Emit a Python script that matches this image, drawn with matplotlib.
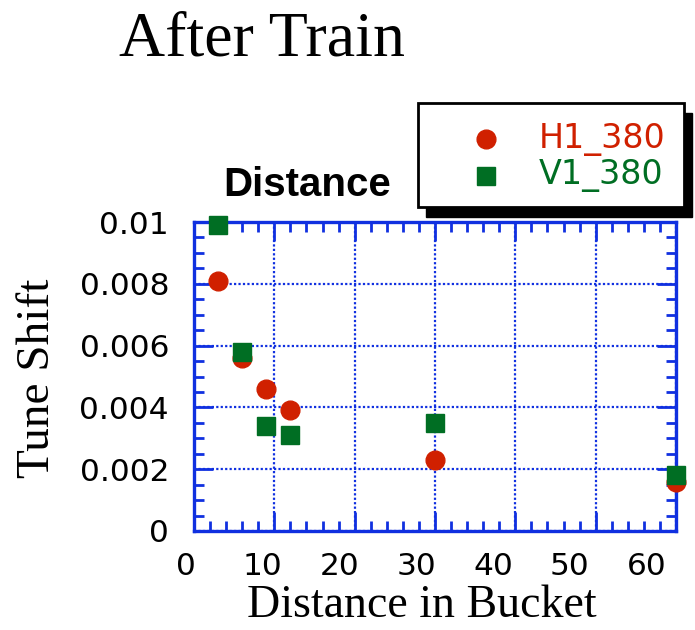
import matplotlib
matplotlib.use("Agg")
import matplotlib.pyplot as plt
from matplotlib.ticker import MultipleLocator, FixedLocator
from matplotlib.patches import Rectangle
from matplotlib.lines import Line2D
from matplotlib.transforms import ScaledTranslation

# Data: tune shift vs. bunch distance
h1_distance = [3, 6, 9, 12, 30, 60]
h1_shift = [0.0081, 0.0056, 0.0046, 0.0039, 0.0023, 0.0016]
v1_distance = [3, 6, 9, 12, 30, 60]
v1_shift = [0.0099, 0.0058, 0.0034, 0.0031, 0.0035, 0.0018]

x_ticks = [0, 10, 20, 30, 40, 50, 60]
y_ticks = [0, 0.002, 0.004, 0.006, 0.008, 0.01]
y_tick_labels = ["0", "0.002", "0.004", "0.006", "0.008", "0.01"]

RED = "#d02000"
GREEN = "#006e23"
BLUE = "#1030e0"

W, H = 695, 630
fig = plt.figure(figsize=(W / 100, H / 100), dpi=100)
ax = fig.add_axes([194 / W, 1 - 531 / H, (676 - 194) / W, (531 - 222) / H])

ax.plot(h1_distance, h1_shift, linestyle="none", marker="o", ms=13.5,
        color=RED, mec=RED, clip_on=False, zorder=3)
ax.plot(v1_distance, v1_shift, linestyle="none", marker="s", ms=13.5,
        color=GREEN, mec=GREEN, clip_on=False, zorder=4)

ax.set_xlim(0, 60)
ax.set_ylim(0, 0.01)
ax.xaxis.set_major_locator(FixedLocator(x_ticks))
ax.xaxis.set_minor_locator(MultipleLocator(2))
ax.yaxis.set_major_locator(FixedLocator(y_ticks))
ax.yaxis.set_minor_locator(MultipleLocator(0.0005))
ax.set_xticklabels([str(t) for t in x_ticks])
ax.set_yticklabels(y_tick_labels)

for s in ax.spines.values():
    s.set_color(BLUE)
    s.set_linewidth(2.4)
ax.tick_params(which="both", direction="in", top=True, right=True,
               color=BLUE, width=2)
ax.tick_params(which="major", length=14)
ax.tick_params(which="minor", length=7)
ax.tick_params(axis="x", which="major", pad=15, labelsize=22.5)
ax.tick_params(axis="y", which="major", pad=18, labelsize=22.5)
for lab in ax.get_xticklabels() + ax.get_yticklabels():
    lab.set_family("DejaVu Sans")

# x tick labels sit on a slightly tighter pitch than the ticks
for i, lab in enumerate(ax.get_xticklabels()):
    dx = -(8 + 3.55 * i) / 100.0
    lab.set_transform(lab.get_transform() + ScaledTranslation(dx, 0, fig.dpi_scale_trans))

ax.grid(which="major", color=BLUE, linestyle=(0, (1, 1)), linewidth=1.6)
ax.set_axisbelow(True)

ax.set_xlabel("Distance in Bucket", family="Liberation Serif", fontsize=33, labelpad=0)
ax.xaxis.set_label_coords(422 / W, 1 - 617 / H, transform=fig.transFigure)
ax.xaxis.label.set_va("baseline")
ax.set_ylabel("Tune Shift", family="Liberation Serif", fontsize=34)
ax.yaxis.set_label_coords(38 / W, 1 - 378 / H, transform=fig.transFigure)
ax.yaxis.label.set_va("center")

fig.text(262 / W, 1 - 55 / H, "After Train", family="Liberation Serif",
         fontsize=46, ha="center", va="baseline")
fig.text(223 / W, 1 - 196 / H, "Distance", family="Liberation Sans",
         fontweight="bold", fontsize=29, ha="left", va="baseline")

# Legend box with drop shadow
lx0, ly0, lx1, ly1 = 418, 103, 684, 207
fig.patches.append(Rectangle(((lx0 + 8) / W, 1 - (ly1 + 10) / H),
                             (lx1 - lx0) / W, (ly1 - ly0) / H,
                             transform=fig.transFigure, facecolor="black",
                             edgecolor="black", zorder=5))
fig.patches.append(Rectangle((lx0 / W, 1 - ly1 / H),
                             (lx1 - lx0) / W, (ly1 - ly0) / H,
                             transform=fig.transFigure, facecolor="white",
                             edgecolor="black", linewidth=2, zorder=6))
fig.lines.append(Line2D([486 / W], [1 - 139 / H], marker="o", ms=13.5,
                        color=RED, linestyle="none", transform=fig.transFigure, zorder=7))
fig.lines.append(Line2D([486 / W], [1 - 176 / H], marker="s", ms=13,
                        color=GREEN, linestyle="none", transform=fig.transFigure, zorder=7))
fig.text(539 / W, 1 - 139 / H, "H1_380", family="DejaVu Sans", fontsize=24,
         color=RED, va="center", ha="left", zorder=8)
fig.text(539 / W, 1 - 176 / H, "V1_380", family="DejaVu Sans", fontsize=24,
         color=GREEN, va="center", ha="left", zorder=8)

fig.savefig("out.png", dpi=100)
